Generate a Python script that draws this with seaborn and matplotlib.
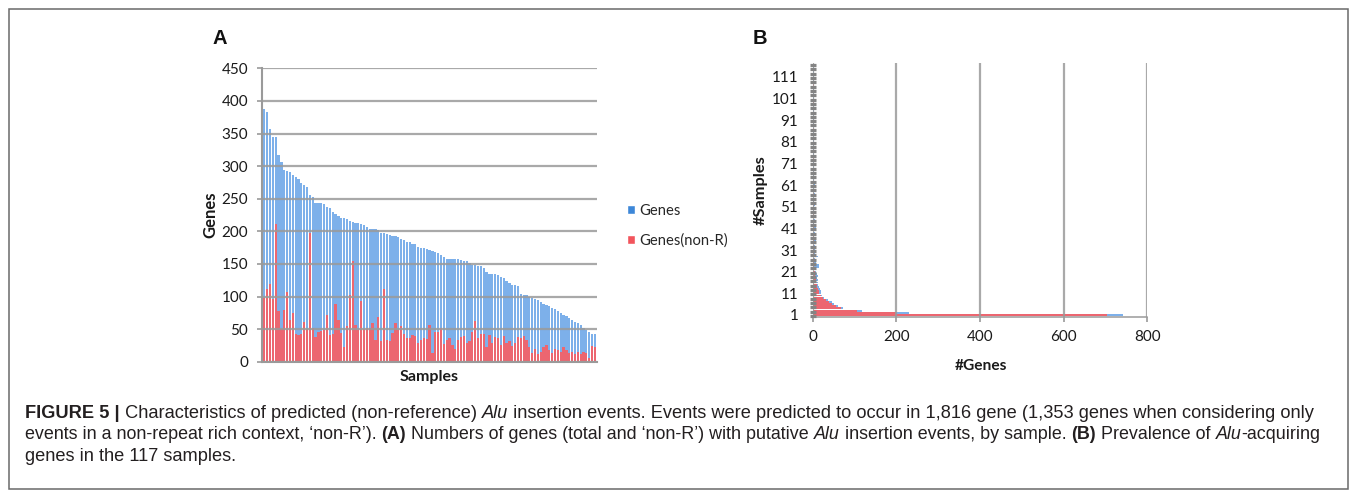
import matplotlib
matplotlib.use("Agg")
import numpy as np
import pandas as pd
import matplotlib.pyplot as plt
import seaborn as sns
from matplotlib.patches import Patch, Rectangle
from matplotlib import font_manager

# ---------------- data ----------------
samples_a = list(range(1, 118))
genes_a = [387, 383, 357, 345, 344, 317, 307, 294, 292, 291,
           286, 284, 280, 274, 271, 268, 256, 253, 244, 243,
           243, 242, 238, 235, 230, 226, 223, 221, 220, 219,
           216, 215, 213, 212, 211, 210, 207, 204, 203, 203,
           202, 198, 197, 196, 194, 193, 193, 192, 188, 186,
           184, 183, 181, 180, 176, 175, 174, 173, 171, 170,
           168, 166, 164, 161, 158, 157, 157, 157, 157, 156,
           155, 154, 152, 149, 148, 147, 147, 143, 137, 135,
           135, 134, 133, 130, 128, 124, 121, 118, 117, 116,
           104, 103, 103, 99, 97, 96, 95, 92, 89, 87,
           85, 83, 81, 77, 74, 72, 70, 67, 64, 61,
           59, 56, 52, 48, 45, 43, 42]
genes_nonr_a = [97, 111, 119, 96, 211, 77, 50, 79, 107, 64,
                74, 43, 41, 42, 61, 50, 198, 51, 38, 46,
                47, 48, 71, 41, 43, 89, 64, 44, 23, 55,
                103, 154, 56, 49, 93, 50, 51, 52, 60,
                33, 68, 32, 112, 33, 31, 44, 59, 48, 55,
                43, 37, 37, 41, 39, 28, 34, 37, 35, 56,
                14, 46, 46, 51, 27, 33, 37, 26, 20, 33,
                38, 39, 28, 31, 46, 62, 37, 43, 42, 23,
                41, 28, 38, 36, 26, 39, 28, 31, 24, 28,
                38, 36, 39, 33, 23, 13, 20, 12, 15, 23,
                26, 18, 13, 20, 18, 15, 23, 18, 14, 15,
                12, 15, 12, 15, 13, 5, 24, 23]
a_yticks = [0, 50, 100, 150, 200, 250, 300, 350, 400, 450]

n_samples_b = list(range(1, 118))
genes_b = [743, 230, 117, 72, 60, 52, 45, 36, 28, 22,
           20, 21, 17, 16, 13, 13, 12, 11, 12, 10,
           8, 9, 16, 14, 8, 7, 6, 13, 5, 6,
           5, 4, 6, 8, 7, 5, 4, 6, 5, 3,
           7, 5, 4, 3, 5, 4, 3, 4, 2, 3,
           4, 5, 3, 2, 3, 4, 6, 3, 2, 4,
           5, 3, 2, 3, 2, 4, 3, 2, 3, 2,
           3, 2, 3, 4, 2, 3, 2, 2, 3, 4,
           2, 3, 2, 2, 3, 2, 4, 2, 3, 2,
           3, 2, 2, 3, 2, 3, 2, 2, 3, 2,
           2, 3, 2, 2, 4, 2, 3, 2, 2, 3,
           4, 2, 3, 2, 2, 1, 1]
genes_nonr_b = [703, 198, 107, 67, 55, 46, 38, 32, 24, 20,
                16, 15, 13, 11, 10, 9, 8, 7, 6, 6,
                5, 4, 4, 4, 3, 3, 2, 3, 2, 3,
                2, 1, 2, 3, 2, 1, 2, 1, 1, 2,
                3, 1, 1, 2, 1, 1, 2, 1, 0, 1,
                1, 2, 1, 0, 1, 1, 3, 1, 0, 1,
                1, 0, 1, 1, 0, 2, 1, 0, 1, 0,
                1, 0, 4, 1, 0, 1, 0, 1, 1, 0,
                0, 1, 0, 1, 0, 0, 3, 0, 1, 0,
                1, 0, 0, 1, 0, 0, 1, 0, 3, 0,
                0, 1, 0, 0, 1, 0, 2, 0, 0, 4,
                1, 0, 1, 0, 0, 0, 0]
b_labeled = [1, 11, 21, 31, 41, 51, 61, 71, 81, 91, 101, 111]
b_xticks = [0, 200, 400, 600, 800]

caption_lines = [
    [("FIGURE 5 |", "bold", "normal"),
     (" Characteristics of predicted (non-reference) ", "normal", "normal"),
     ("Alu", "normal", "italic"),
     (" insertion events. Events were predicted to occur in 1,816 gene (1,353 genes when considering only", "normal", "normal")],
    [("events in a non-repeat rich context, \u2018non-R\u2019). ", "normal", "normal"),
     ("(A)", "bold", "normal"),
     (" Numbers of genes (total and \u2018non-R\u2019) with putative ", "normal", "normal"),
     ("Alu", "normal", "italic"),
     (" insertion events, by sample. ", "normal", "normal"),
     ("(B)", "bold", "normal"),
     (" Prevalence of ", "normal", "normal"),
     ("Alu", "normal", "italic"),
     ("-acquiring", "normal", "normal")],
    [("genes in the 117 samples.", "normal", "normal")],
]

# ---------------- style ----------------
sns.set_theme(style="white")
plt.rcParams['font.family'] = ['Lato', 'DejaVu Sans']

BLUE = "#7db0ea"
RED = "#ec6670"
BLUE_L = "#3d87d8"
RED_L = "#f2545c"
GRID = "#9a9a9a"
TXT = "#1a1a1a"

W, H = 1355, 496
fig = plt.figure(figsize=(W / 100, H / 100), dpi=100)
fig.patch.set_facecolor("white")


def fx(px):
    return px / W


def fy(py):
    return 1 - py / H


bar_kw = dict(saturation=1, errorbar=None, linewidth=0, edgecolor="none")

# ---------------- panel A ----------------
a_l, a_r, a_t, a_b = 262.3, 596.5, 68.3, 361.7
axA = fig.add_axes([fx(a_l), fy(a_b), (a_r - a_l) / W, (a_b - a_t) / H])
dfA = pd.DataFrame({"sample": samples_a, "genes": genes_a, "nonr": genes_nonr_a})
sns.barplot(data=dfA, x="sample", y="genes", color=BLUE, width=0.78,
            ax=axA, zorder=1, **bar_kw)
sns.barplot(data=dfA, x="sample", y="nonr", color=RED, width=0.78,
            ax=axA, zorder=1.1, **bar_kw)
axA.set_xlim(-0.7, len(samples_a) - 0.44)
axA.set_ylim(0, 450)
axA.set_yticks(a_yticks)
axA.set_yticklabels([str(v) for v in a_yticks], fontsize=11, color=TXT)
axA.set_xticks([])
axA.set_axisbelow(False)
axA.yaxis.grid(True, color=GRID, lw=1.6, alpha=0.85)
axA.xaxis.grid(False)
for s in ["top", "right"]:
    axA.spines[s].set_visible(False)
for s in ["left", "bottom"]:
    axA.spines[s].set_color(GRID)
    axA.spines[s].set_linewidth(1.5)
axA.tick_params(axis="y", which="major", direction="out", length=3.6,
                width=1.2, color=GRID, pad=6.5, left=True)
axA.set_xlabel("Samples", fontsize=11.5, fontweight="bold", color=TXT)
axA.set_ylabel("Genes", fontsize=12, fontweight="bold", color=TXT)
axA.xaxis.set_label_coords(0.5, (a_b - 376.5) / (a_b - a_t))
axA.xaxis.label.set_verticalalignment("center")
axA.yaxis.set_label_coords((210 - a_l) / (a_r - a_l), 0.5)
axA.yaxis.label.set_verticalalignment("center")

fig.legend(handles=[Patch(facecolor=BLUE_L, label="Genes"),
                    Patch(facecolor=RED_L, label="Genes(non-R)")],
           loc="upper left", bbox_to_anchor=(fx(626.5), fy(204)),
           frameon=False, fontsize=10.6, handlelength=0.55, handleheight=0.55,
           handletextpad=0.3, labelspacing=1.05, borderpad=0,
           borderaxespad=0)

# ---------------- panel B ----------------
b_l, b_r, b_t, b_b = 812.7, 1147.3, 62.7, 316.7
axB = fig.add_axes([fx(b_l), fy(b_b), (b_r - b_l) / W, (b_b - b_t) / H])
dfB = pd.DataFrame({"n": n_samples_b, "genes": genes_b, "nonr": genes_nonr_b})
sns.barplot(data=dfB, y="n", x="genes", orient="y", color=BLUE, width=0.9,
            ax=axB, zorder=1, **bar_kw)
sns.barplot(data=dfB, y="n", x="nonr", orient="y", color=RED, width=0.9,
            ax=axB, zorder=1.1, **bar_kw)
nb = len(n_samples_b)
axB.set_ylim(-0.8, nb - 0.5)
axB.set_xlim(0, 800)
axB.set_xticks(b_xticks)
axB.set_xticklabels([str(v) for v in b_xticks], fontsize=11, color=TXT)
axB.set_yticks([n_samples_b.index(v) for v in b_labeled])
axB.set_yticklabels([str(v) for v in b_labeled], fontsize=11, color=TXT)
axB.set_yticks(np.arange(0, nb + 1, 2) - 0.5, minor=True)
axB.set_axisbelow(False)
axB.xaxis.grid(True, color=GRID, lw=1.6, alpha=0.85)
axB.yaxis.grid(False)
for s in ["top", "right", "left"]:
    axB.spines[s].set_visible(False)
axB.spines["bottom"].set_color(GRID)
axB.spines["bottom"].set_linewidth(1.1)
axB.tick_params(axis="y", which="major", length=0, pad=10.4, left=True)
axB.tick_params(axis="y", which="minor", direction="inout", length=5,
                width=2.3, color="#848484", left=True)
axB.tick_params(axis="x", which="major", direction="out", length=3.6,
                width=1.2, color=GRID, pad=6.0, bottom=True)
axB.set_xlabel("#Genes", fontsize=11.2, fontweight="bold", color=TXT)
axB.set_ylabel("#Samples", fontsize=11.8, fontweight="bold", color=TXT)
axB.xaxis.set_label_coords((981 - b_l) / (b_r - b_l), (b_b - 366) / (b_b - b_t))
axB.xaxis.label.set_verticalalignment("center")
axB.yaxis.set_label_coords((761 - b_l) / (b_r - b_l), (b_b - 190) / (b_b - b_t))
axB.yaxis.label.set_verticalalignment("center")

# panel letters
for letter, x in [("A", 212.5), ("B", 752.5)]:
    fig.text(fx(x), fy(44), letter, fontsize=14.5, fontweight="bold",
             family=["Liberation Sans", "DejaVu Sans"], ha="left",
             va="baseline", color="#111111")

# ---------------- caption ----------------
cap_family = ["Liberation Sans", "DejaVu Sans"]
renderer = fig.canvas.get_renderer()


def seg_width(txt, size, weight, style):
    prop = font_manager.FontProperties(family=cap_family, size=size,
                                       weight=weight, style=style)
    w1, _, _ = renderer.get_text_width_height_descent(txt + "|", prop, ismath=False)
    w2, _, _ = renderer.get_text_width_height_descent("|", prop, ismath=False)
    return w1 - w2


def line_width(line, size):
    return sum(seg_width(t, size, w, s) for t, w, s in line)


base = 10.0
size1 = base * (1297.0 / line_width(caption_lines[0], base))
size2 = base * (1295.0 / line_width(caption_lines[1], base))
sizes = [size1, size2, size1]

for line, baseline, size in zip(caption_lines, [417.5, 439.3, 461.0], sizes):
    x = 25.0
    for t, w, s in line:
        fig.text(fx(x), fy(baseline), t, fontsize=size, fontweight=w,
                 fontstyle=s, family=cap_family, ha="left", va="baseline",
                 color="#231f20")
        x += seg_width(t, size, w, s)

# border
fig.patches.append(Rectangle((fx(8.5), fy(488.5)), (1347.5 - 8.5) / W,
                             (488.5 - 8.5) / H, transform=fig.transFigure,
                             fill=False, edgecolor="#6a6a6a", lw=1.1))

fig.savefig("out.png", dpi=100, facecolor="white")
